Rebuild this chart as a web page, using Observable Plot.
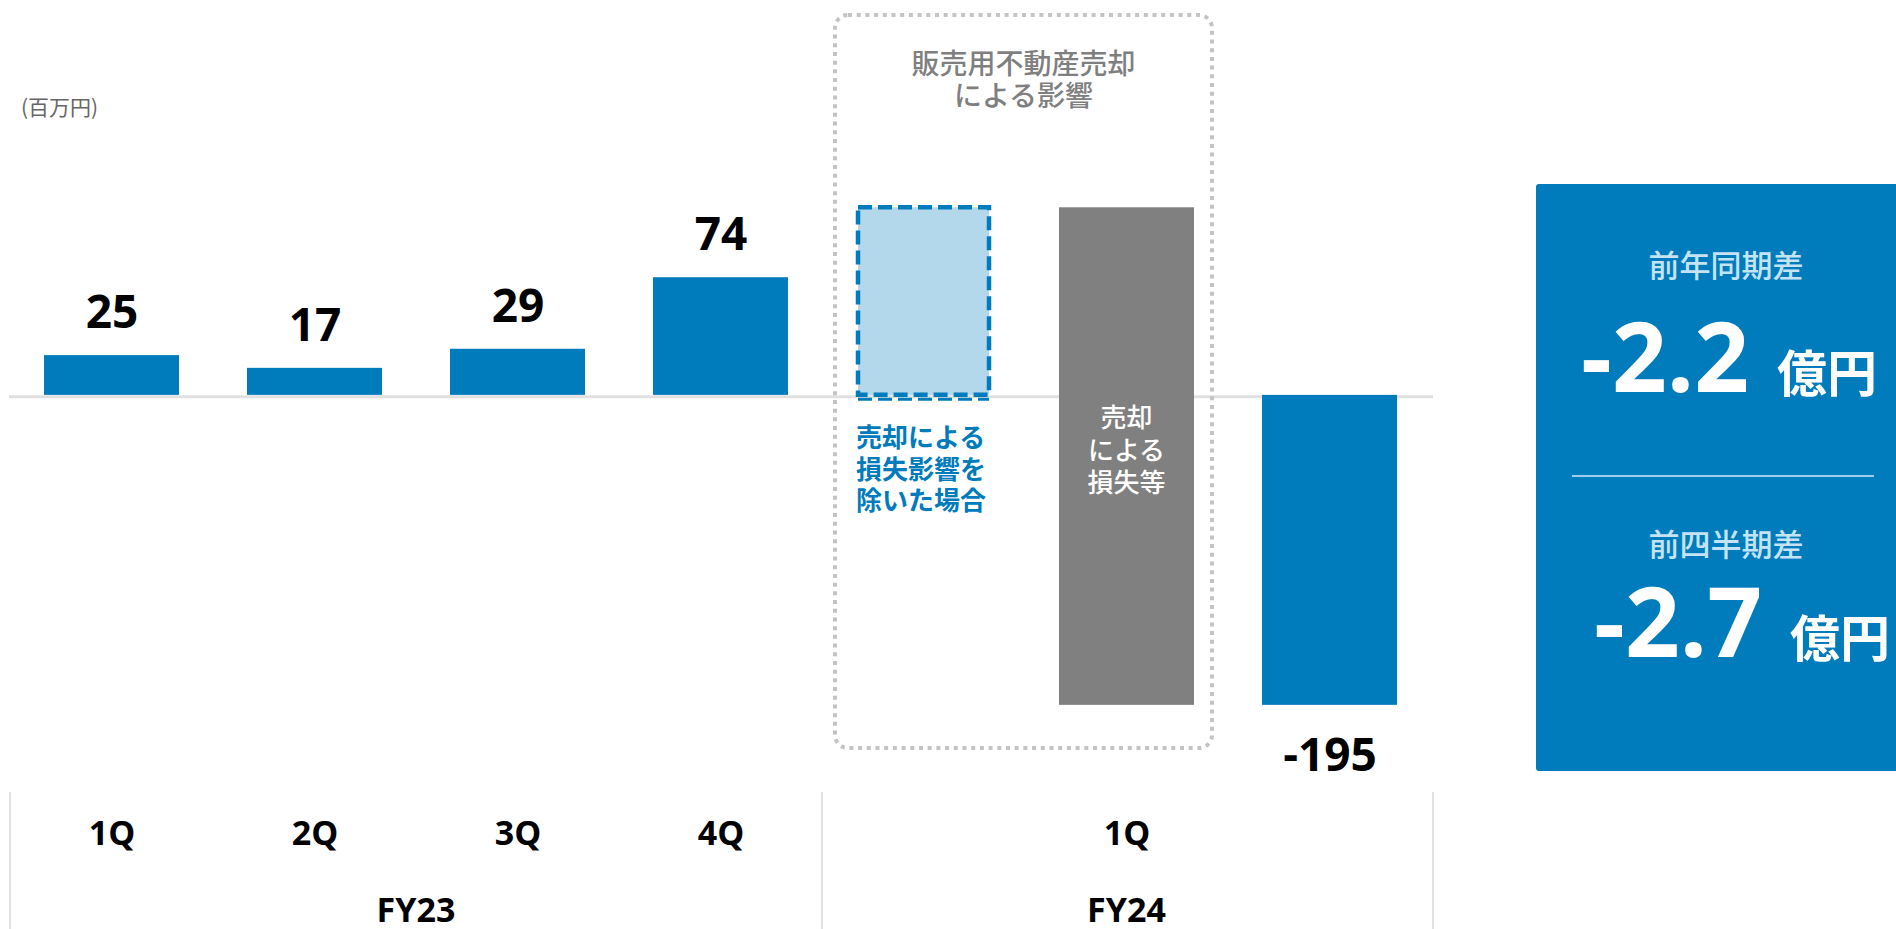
<!DOCTYPE html>
<html>
<head>
<meta charset="utf-8">
<script src="https://cdn.jsdelivr.net/npm/d3@7"></script>
<script src="https://cdn.jsdelivr.net/npm/@observablehq/plot@0.6"></script>
<style>
  html, body { margin: 0; padding: 0; background: #fff; overflow: hidden; }
  #chart { width: 1896px; height: 929px; }
  #chart svg { display: block; max-width: none; }
</style>
</head>
<body>
<div id="chart"></div>
<script>
// ---- data ----
const categories = ["FY23-1Q", "FY23-2Q", "FY23-3Q", "FY23-4Q", "FY24-1Q-除外", "FY24-1Q-損失", "FY24-1Q"];
const resultCategories = ["FY23-1Q", "FY23-2Q", "FY23-3Q", "FY23-4Q", "FY24-1Q"];
const resultValues = [25, 17, 29, 74, -195];
const adjustedCategory = "FY24-1Q-除外";
const adjustedValue = 118;
const lossCategory = "FY24-1Q-損失";
const lossFrom = 118;
const lossTo = -195;
const quarterTickCategories = ["FY23-1Q", "FY23-2Q", "FY23-3Q", "FY23-4Q", "FY24-1Q-損失"];
const quarterTickLabels = ["1Q", "2Q", "3Q", "4Q", "1Q"];
const yearLabels = ["FY23", "FY24"];
const yearFirst = ["FY23-1Q", "FY24-1Q-除外"];
const yearLast = ["FY23-4Q", "FY24-1Q"];
const unitLabel = "(百万円)";
const boxTitle = ["販売用不動産売却", "による影響"];
const adjustedNote = ["売却による", "損失影響を", "除いた場合"];
const lossNote = ["売却", "による", "損失等"];
const panelTitles = ["前年同期差", "前四半期差"];
const panelValues = ["-2.2", "-2.7"];
const panelUnit = "億円";

// ---- styles ----
const BLUE = "#007bbb";
const JP = "'Noto Sans CJK JP', 'Noto Sans', sans-serif";
const NUM = "'Open Sans', 'Noto Sans', sans-serif";

const results = resultCategories.map((c, i) => ({cat: c, value: resultValues[i]}));
const adjusted = [{cat: adjustedCategory, value: adjustedValue}];
const loss = [{cat: lossCategory, y1: lossFrom, y2: lossTo}];
const quarterTicks = quarterTickCategories.map((c, i) => ({cat: c, label: quarterTickLabels[i]}));

const chart = Plot.plot({
  width: 1896,
  height: 929,
  marginLeft: 9,
  marginRight: 463,
  marginTop: 0,
  marginBottom: 0,
  style: {fontFamily: JP, background: "white", overflow: "visible"},
  x: {domain: categories, paddingInner: 0.334, paddingOuter: 0.167, axis: null},
  y: {domain: [-336, 248.4], axis: null},
  marks: [
    Plot.ruleY([0], {stroke: "#e0e0e0", strokeWidth: 3, dy: 1.5}),
    Plot.barY(results, {x: "cat", y: "value", fill: BLUE}),
    Plot.barY(adjusted, {x: "cat", y: "value", fill: "#b4d8eb", stroke: BLUE, strokeWidth: 4.5, strokeDasharray: "14,6", insetLeft: 2, insetRight: 2}),
    Plot.tickY(adjusted.map(d => ({cat: d.cat, v: 0})), {x: "cat", y: "v", dy: 4, stroke: BLUE, strokeWidth: 3, strokeDasharray: "14,6", insetLeft: 2, insetRight: 2}),
    Plot.barY(loss, {x: "cat", y1: "y1", y2: "y2", fill: "#808080"}),
    Plot.text(results.filter(d => d.value >= 0), {x: "cat", y: "value", text: d => String(d.value), dy: -42, fontSize: 46, fontWeight: 700, fontFamily: NUM, fill: "#000"}),
    Plot.text(results.filter(d => d.value < 0), {x: "cat", y: "value", text: d => String(d.value), dy: 51, fontSize: 46, fontWeight: 700, fontFamily: NUM, fill: "#000"}),
    Plot.text(quarterTicks, {x: "cat", text: "label", frameAnchor: "bottom", dy: -85, fontSize: 34, fontWeight: 700, fontFamily: NUM, fill: "#000"})
  ]
});
document.getElementById("chart").appendChild(chart);

// ---- annotations drawn from the plot's scales ----
const svg = d3.select(chart);
const xs = chart.scale("x");
const bw = xs.bandwidth, step = xs.step, gap = step - bw;
const left = c => xs.apply(c), center = c => xs.apply(c) + bw / 2, right = c => xs.apply(c) + bw;
const [rx0, rx1] = xs.range;

const g = svg.append("g");

// multi-line text as one <text> with tspans
function multiline(parent, lines, x, y0, lh, attrs) {
  const t = parent.append("text").attr("x", x).attr("y", y0).attr("dominant-baseline", "central");
  Object.entries(attrs).forEach(([k, v]) => t.attr(k, v));
  lines.forEach((s, i) => t.append("tspan").attr("x", x).attr("y", y0 + i * lh).attr("dominant-baseline", "central").text(s));
  return t;
}

// separators under the axis
const sepX = [rx0 + 1, left(adjustedCategory) - gap / 2, rx1];
g.selectAll("line.sep").data(sepX).join("line")
  .attr("x1", d => d).attr("x2", d => d).attr("y1", 792).attr("y2", 929)
  .attr("stroke", "#e2e2e2").attr("stroke-width", 2);

// year labels
g.selectAll("text.year").data(yearLabels).join("text")
  .attr("x", (d, i) => (center(yearFirst[i]) + center(yearLast[i])) / 2)
  .attr("y", 909)
  .attr("text-anchor", "middle").attr("dominant-baseline", "central")
  .attr("font-family", NUM).attr("font-weight", 700).attr("font-size", 34).attr("fill", "#000")
  .text(d => d);

// unit label
g.append("text").attr("x", 21).attr("y", 106).attr("dominant-baseline", "central")
  .attr("text-anchor", "start")
  .attr("font-size", 21).attr("fill", "#666").attr("font-family", JP).text(unitLabel);

// dotted box around the sale effect
const boxL = left(adjustedCategory) - 21, boxR = right(lossCategory) + 18;
g.append("rect").attr("x", boxL).attr("y", 15).attr("width", boxR - boxL).attr("height", 733)
  .attr("rx", 13).attr("fill", "none").attr("stroke", "#c4c4c4").attr("stroke-width", 4)
  .attr("stroke-dasharray", "4,4.7");
multiline(g, boxTitle, (boxL + boxR) / 2, 62, 32, {
  "text-anchor": "middle", "font-size": 28, "font-weight": 500, "fill": "#7f7f7f", "font-family": JP
});

// note under the adjusted bar
multiline(g, adjustedNote, left(adjustedCategory), 435, 31.5, {
  "text-anchor": "start", "font-size": 26, "font-weight": 700, "fill": BLUE, "font-family": JP
});

// note inside the loss bar
multiline(g, lossNote, center(lossCategory), 415, 32.5, {
  "text-anchor": "middle", "font-size": 26, "font-weight": 500, "fill": "#fff", "font-family": JP
});

// right summary panel
const panel = svg.append("g");
panel.append("rect").attr("x", 1536).attr("y", 184).attr("width", 380).attr("height", 587)
  .attr("rx", 3).attr("fill", BLUE);
panel.append("line").attr("x1", 1572).attr("x2", 1874).attr("y1", 476).attr("y2", 476)
  .attr("stroke", "#9fcde9").attr("stroke-width", 2);
const titleY = [263, 542];
const valueBase = [392, 657];
const valueX = [1581, 1594];
const unitX = [1777, 1790];
panelTitles.forEach((t, i) => {
  const txt = panel.append("text").attr("text-anchor", "start").attr("fill", "#fff");
  txt.append("tspan").attr("x", 1726).attr("y", titleY[i])
    .attr("text-anchor", "middle").attr("dominant-baseline", "central")
    .attr("font-size", 31).attr("font-weight", 500).attr("fill", "#c4e4f6").attr("font-family", JP)
    .text(t);
  txt.append("tspan").attr("x", valueX[i]).attr("y", valueBase[i])
    .attr("text-anchor", "start")
    .attr("font-size", 96).attr("font-weight", 700).attr("fill", "#fff").attr("font-family", NUM)
    .text(panelValues[i]);
  txt.append("tspan").attr("x", unitX[i]).attr("y", valueBase[i])
    .attr("text-anchor", "start")
    .attr("font-size", 50).attr("font-weight", 700).attr("fill", "#fff").attr("font-family", JP)
    .text(panelUnit);
});
</script>
</body>
</html>
